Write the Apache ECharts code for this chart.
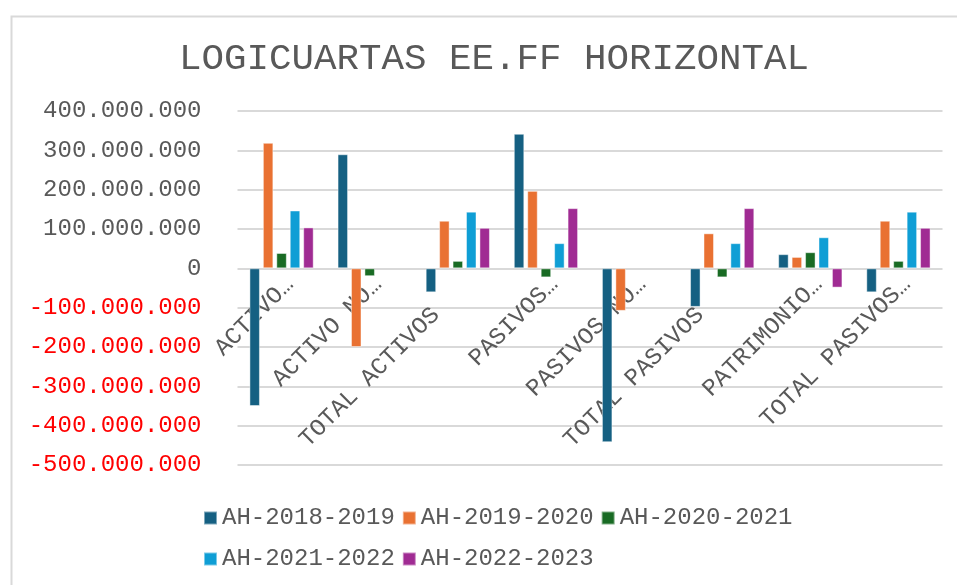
<!DOCTYPE html>
<html>
<head>
<meta charset="utf-8">
<script src="https://cdn.jsdelivr.net/npm/echarts@6/dist/echarts.min.js"></script>
<style>
  html, body { margin: 0; padding: 0; background: #fff; }
  #chart { width: 957px; height: 585px; }
</style>
</head>
<body>
<div id="chart"></div>
<script>
// categorias (truncadas como en el original)
var categories = ['ACTIVO…', 'ACTIVO NO…', 'TOTAL ACTIVOS', 'PASIVOS…', 'PASIVOS NO…', 'TOTAL PASIVOS', 'PATRIMONIO…', 'TOTAL PASIVOS…'];
var seriesNames = ['AH-2018-2019', 'AH-2019-2020', 'AH-2020-2021', 'AH-2021-2022', 'AH-2022-2023'];
var ah2018 = [-350000000, 290000000, -61000000, 342000000, -442000000, -98000000, 36000000, -61000000];
var ah2019 = [319000000, -200000000, 121000000, 197000000, -108000000, 89000000, 29000000, 121000000];
var ah2020 = [39000000, -20000000, 19000000, -23000000, null, -23000000, 41000000, 19000000];
var ah2021 = [147000000, null, 144000000, 64000000, null, 64000000, 79000000, 144000000];
var ah2022 = [104000000, null, 103000000, 153000000, null, 153000000, -49000000, 103000000];
var colors = ['#156082', '#E97132', '#196B24', '#0F9ED5', '#A02B93'];

var font = '"Liberation Mono", "Courier New", monospace';
var gray = '#595959';

function fmt(v) {
    var s = Math.abs(v).toString().replace(/\B(?=(\d{3})+(?!\d))/g, '.');
    return (v < 0 ? '-' : '') + s;
}

var allData = [ah2018, ah2019, ah2020, ah2021, ah2022];
var series = [];
for (var i = 0; i < allData.length; i++) {
    series.push({
        name: seriesNames[i],
        type: 'bar',
        data: allData[i],
        barWidth: 10.5,
        barGap: '28%',
        itemStyle: {
            color: colors[i],
            borderColor: 'rgba(255,255,255,0.45)',
            borderWidth: 1
        }
    });
}

var chart = echarts.init(document.getElementById('chart'));
var option = {
    animation: false,
    color: colors,
    title: {
        text: 'LOGICUARTAS EE.FF HORIZONTAL',
        left: 489,
        textAlign: 'center',
        top: 35,
        textStyle: { fontFamily: font, fontSize: 37.5, fontWeight: 'normal', color: gray }
    },
    graphic: [{
        type: 'rect',
        shape: { x: 11.5, y: 16.5, width: 1000, height: 1000 },
        style: { fill: 'none', stroke: '#d9d9d9', lineWidth: 2 },
        silent: true
    }],
    legend: {
        left: 198,
        top: 496,
        width: 620,
        itemWidth: 13,
        itemHeight: 13,
        itemGap: 7,
        icon: 'rect',
        textStyle: { fontFamily: font, fontSize: 24, color: gray, lineHeight: 34 },
        data: seriesNames
    },
    grid: {
        left: 237.5,
        right: 14.5,
        top: 111,
        bottom: 120,
        containLabel: false,
        outerBoundsMode: 'none'
    },
    xAxis: {
        type: 'category',
        data: categories,
        offset: 0,
        axisTick: { show: false },
        axisLine: { show: false, onZero: false },
        axisLabel: {
            interval: 0,
            rotate: 45,
            margin: 4,
            verticalAlign: 'top',
            fontFamily: font,
            fontSize: 24,
            color: gray,
            // las etiquetas completas quedan algo mas abajo que las recortadas
            formatter: function (v) {
                return v.indexOf('…') < 0 ? '{p|' + v + '}' : v;
            },
            rich: {
                p: { fontFamily: font, fontSize: 24, color: gray, padding: [0, 43, 0, 0] }
            }
        }
    },
    yAxis: {
        type: 'value',
        min: -500000000,
        max: 400000000,
        interval: 100000000,
        axisLine: { show: false },
        axisTick: { show: false },
        splitLine: { lineStyle: { color: '#d9d9d9', width: 2 } },
        axisLabel: {
            margin: 36,
            fontFamily: font,
            fontSize: 24,
            formatter: fmt,
            color: function (v) { return Number(v) < 0 ? '#ff0000' : gray; }
        }
    },
    series: series
};
chart.setOption(option);

// llevar las etiquetas de categoria a la linea del cero
var zeroPx = chart.convertToPixel({ yAxisIndex: 0 }, 0);
var bottomPx = chart.convertToPixel({ yAxisIndex: 0 }, -500000000);
chart.setOption({ xAxis: { offset: zeroPx - bottomPx } });
</script>
</body>
</html>
